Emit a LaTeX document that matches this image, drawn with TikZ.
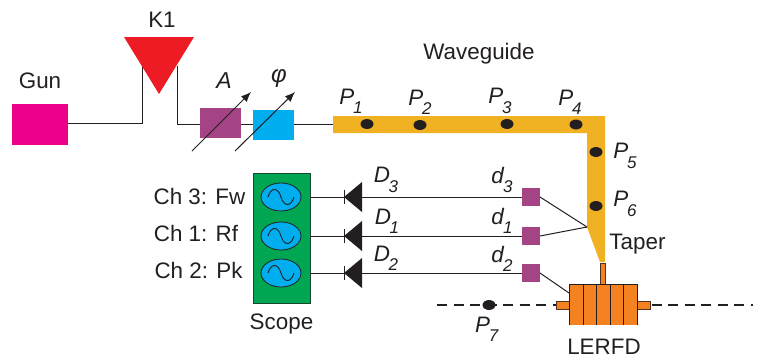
\documentclass[tikz,border=0pt]{standalone}
\usepackage{fontspec}
\setmainfont{Liberation Sans}
\usetikzlibrary{shapes.geometric,arrows.meta}
\definecolor{gunc}{RGB}{236,0,140}
\definecolor{klyc}{RGB}{237,28,36}
\definecolor{purp}{RGB}{165,68,133}
\definecolor{cyanb}{RGB}{0,174,239}
\definecolor{wgc}{RGB}{240,178,35}
\definecolor{scopec}{RGB}{0,166,81}
\definecolor{orc}{RGB}{245,130,32}
\definecolor{ink}{RGB}{35,31,32}
\newcommand{\lab}[2]{\textit{#1}\kern-0.06em\raisebox{-0.42em}{\fontsize{17}{17}\selectfont\textit{#2}}}
\tikzset{
  x=1pt,y=-1pt,
  wire/.style={draw=ink,line width=1pt},
  box/.style={rectangle,inner sep=0pt,outer sep=0pt},
  txt/.style={inner sep=0pt,outer sep=0pt,text=ink,font=\fontsize{22.4}{24}\selectfont},
  dot/.style={ellipse,fill=ink,inner sep=0pt,minimum width=13pt,minimum height=10pt},
  det/.style={box,fill=purp,minimum width=18pt,minimum height=18pt},
  scr/.style={ellipse,draw=ink,line width=0.8pt,fill=cyanb,inner sep=0pt,minimum width=40pt,minimum height=28pt},
  tune/.style={draw=ink,line width=1pt,-{Latex[length=10pt,width=8pt]}},
  stub/.style={box,fill=orc,draw=ink!80!orc,line width=0.8pt}
}
\begin{document}
\begin{tikzpicture}
\useasboundingbox (0,0) rectangle (758,360);
\coordinate (k1l) at (142,66);
\coordinate (k1r) at (177,66);
\coordinate (taperjoint) at (587,227);
\coordinate (wgin) at (333,124);
\node[box,fill=gunc,minimum width=56pt,minimum height=41pt] (gun) at (40,124.5) {};
\node[box,fill=purp,minimum width=41pt,minimum height=30pt] (att) at (220.5,123) {};
\node[box,fill=cyanb,minimum width=41pt,minimum height=30pt] (phs) at (273.5,125) {};
\draw[wire] (gun.east |- 0,123) -- (142,123) -- (k1l);
\draw[wire] (k1r) -- (177,124) -- (att.west |- 0,124);
\draw[wire] (att.east |- 0,124) -- (phs.west |- 0,124);
\draw[wire] (phs.east |- wgin) -- (wgin);
\fill[klyc] (124,37) -- (194,37) -- (159,94) -- cycle;
\node[txt,anchor=center] (k1t) at (162,20) {K1};
\node[txt,anchor=center] (gunt) at (40,81) {Gun};
\coordinate (a0) at (192,151); \coordinate (a1) at (251,92);
\coordinate (p0) at (235,151); \coordinate (p1) at (295,92);
\draw[tune] (a0) -- (a1);
\draw[tune] (p0) -- (p1);
\node[txt,anchor=center,font=\fontsize{23}{24}\selectfont\itshape] (at) at (224,81) {A};
\node[txt,anchor=center,font=\fontsize{24}{24}\selectfont\itshape] (pt) at (279,79) {φ};
\fill[wgc] (333,116) -- (605,116) -- (605,262) -- (600,262) -- (587,227) -- (587,133) -- (333,133) -- cycle;
\node[txt,anchor=center] (wgt) at (479,54) {Waveguide};
\node[dot] (d1) at (367,124) {};
\node[dot] (d2) at (420,125) {};
\node[dot] (d3) at (507,124) {};
\node[dot] (d4) at (576,124.5) {};
\node[dot] (d5) at (596,152) {};
\node[dot] (d6) at (596,206) {};
\node[txt] (l1) at (351,101) {\lab{P}{1}};
\node[txt] (l2) at (420,102) {\lab{P}{2}};
\node[txt] (l3) at (500,101) {\lab{P}{3}};
\node[txt] (l4) at (570,102) {\lab{P}{4}};
\node[txt] (l5) at (625,156) {\lab{P}{5}};
\node[txt] (l6) at (625,204) {\lab{P}{6}};
\node[txt] (tapt) at (637.5,244) {Taper};
\node[box,fill=scopec,draw=ink!70!scopec,line width=0.8pt,minimum width=57pt,minimum height=130pt] (scope) at (281.5,238) {};
\node[scr] (s3) at (281,197) {};
\node[scr] (s1) at (281,236) {};
\node[scr] (s2) at (281,273) {};
\foreach \n in {s3,s1,s2}{
  \draw[ink,line width=0.9pt] ([xshift=-13pt]\n.center) .. controls +(3,-10) and +(-3,-10) .. (\n.center) .. controls +(3,10) and +(-3,10) .. ([xshift=13pt]\n.center);
}
\node[txt] (c3) at (199.5,196) {Ch 3: Fw};
\node[txt] (c1) at (196,233) {Ch 1: Rf};
\node[txt] (c2) at (198.5,270) {Ch 2: Pk};
\node[txt] (scopet) at (281.5,324) {Scope};
\node[det] (m3) at (531,197) {};
\node[det] (m1) at (531,236) {};
\node[det] (m2) at (531,273) {};
\foreach \n/\y in {3/197,1/236,2/273}{
  \coordinate (sc\n) at (310,\y);
  \draw[wire] (sc\n) -- (m\n.west);
  \fill[ink] (344,\y) -- (362,\y-15) -- (362,\y+15) -- cycle;
  \draw[ink,line width=1pt] (344,\y-7) -- (344,\y+7);
}
\node[txt] (ld3) at (386,180) {\lab{D}{3}};
\node[txt] (ld1) at (387,221) {\lab{D}{1}};
\node[txt] (ld2) at (386,258) {\lab{D}{2}};
\node[txt] (lm3) at (502,180) {\lab{d}{3}};
\node[txt] (lm1) at (502,221) {\lab{d}{1}};
\node[txt] (lm2) at (502,259) {\lab{d}{2}};
\draw[wire] (m3.east) -- (taperjoint);
\draw[wire] (m1.east) -- (taperjoint);
\coordinate (bl) at (437,305);
\coordinate (br) at (753,305);
\draw[draw=ink,line width=1.6pt,dash pattern=on 10pt off 6.5pt] (bl) -- (br);
\node[dot] (d7) at (489,305) {};
\node[txt] (l7) at (487,329) {\lab{P}{7}};
\node[stub,minimum width=13pt,minimum height=8pt] (sl) at (562.5,305) {};
\node[stub,minimum width=13pt,minimum height=8pt] (sr) at (643.5,305) {};
\node[stub,minimum width=5pt,minimum height=22pt] (st) at (602.5,274) {};
\node[box,fill=orc,minimum width=68pt,minimum height=41pt] (lerfd) at (603,304.5) {};
\foreach \x in {569,583,596,610,623,637}{
  \draw[ink,line width=0.8pt] (\x,284) -- (\x,325);
}
\draw[ink,line width=0.8pt] (lerfd.north west) -- (lerfd.north east);
\draw[wire] (m2.east) -- (lerfd.west |- 0,293);
\node[txt] (lt) at (604,347) {LERFD};
\end{tikzpicture}
\end{document}
